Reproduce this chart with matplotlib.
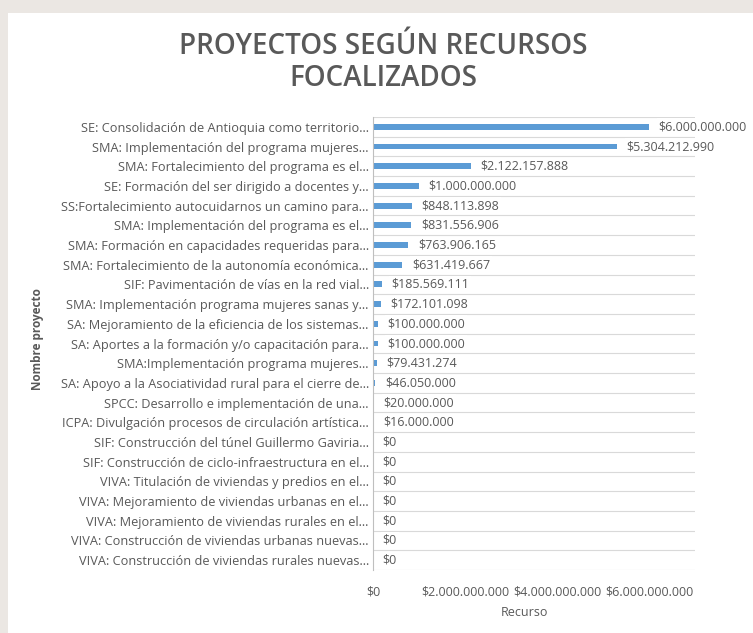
import matplotlib
matplotlib.use('Agg')
import matplotlib.pyplot as plt
import matplotlib.patches as mpatches
import numpy as np

plt.rcParams.update({'font.family': ['Open Sans', 'DejaVu Sans']})

proyectos = [
    'SE: Consolidación de Antioquia como territorio...',
    'SMA: Implementación del programa mujeres...',
    'SMA: Fortalecimiento del programa es el...',
    'SE: Formación del ser dirigido a docentes y...',
    'SS:Fortalecimiento autocuidarnos un camino para...',
    'SMA: Implementación del programa es el...',
    'SMA: Formación en capacidades requeridas para...',
    'SMA: Fortalecimiento de la autonomía económica...',
    'SIF: Pavimentación de vías en la red vial...',
    'SMA: Implementación programa mujeres sanas y...',
    'SA: Mejoramiento de la eficiencia de los sistemas...',
    'SA: Aportes a la formación y/o capacitación para...',
    'SMA:Implementación programa mujeres...',
    'SA: Apoyo a la Asociatividad rural para el cierre de...',
    'SPCC: Desarrollo e implementación de una...',
    'ICPA: Divulgación procesos de circulación artística...',
    'SIF: Construcción del túnel Guillermo Gaviria...',
    'SIF: Construcción de ciclo-infraestructura en el...',
    'VIVA: Titulación de viviendas y predios en el...',
    'VIVA: Mejoramiento de viviendas urbanas en el...',
    'VIVA: Mejoramiento de viviendas rurales en el...',
    'VIVA: Construcción de viviendas urbanas nuevas...',
    'VIVA: Construcción de viviendas rurales nuevas...',
]
recurso = [6000000000, 5304212990, 2122157888, 1000000000, 848113898,
           831556906, 763906165, 631419667, 185569111, 172101098,
           100000000, 100000000, 79431274, 46050000, 20000000, 16000000,
           0, 0, 0, 0, 0, 0, 0]
xticks = [0, 2000000000, 4000000000, 6000000000]

def pesos(v):
    return '$' + f'{v:,.0f}'.replace(',', '.')

gris = '#595959'
azul = '#5b9bd5'

fig = plt.figure(figsize=(7.53, 6.33), dpi=100, facecolor='#ebe7e3')
fig.patches.append(mpatches.Rectangle((8/753, 0), 1, 1 - 13/633, transform=fig.transFigure,
                                      facecolor='white', edgecolor='none', zorder=-5))
ax = fig.add_axes([373/753, 1 - 570/633, (695-373)/753, (570-117)/633])
ax.set_zorder(2)
ax.set_facecolor('none')

y = np.arange(len(proyectos))
ax.barh(y, recurso, height=0.3, color=azul, zorder=2)
ax.set_ylim(len(proyectos) - 0.5, -0.5)
ax.set_xlim(0, 7000000000)

for yi, v in zip(y, recurso):
    ax.annotate(pesos(v), (v, yi), xytext=(7, 0), textcoords='offset points',
                va='center', ha='left', fontsize=9, color=gris, zorder=3,
                bbox=dict(boxstyle='square,pad=0.15', fc='white', ec='none'))

ax.set_yticks(y)
ax.set_yticklabels(proyectos, fontsize=9.2, color=gris)
ax.set_yticks(np.arange(len(proyectos) + 1) - 0.5, minor=True)
ax.grid(True, which='minor', axis='y', color='#d9d9d9', lw=0.8, zorder=1)
ax.tick_params(axis='y', which='both', length=0, pad=3)

ax.set_xticks(xticks)
ax.set_xticklabels([pesos(t) for t in xticks], fontsize=9, color=gris)
ax.tick_params(axis='x', length=0, pad=11)

for s in ['top', 'right', 'bottom']:
    ax.spines[s].set_visible(False)
ax.spines['left'].set_color('#bfbfbf')

fig.text(524/753, 1 - 613/633, 'Recurso', ha='center', va='center',
         fontsize=9, color=gris)
fig.text(37/753, 1 - 339/633, 'Nombre proyecto', rotation=90, ha='center', va='center',
         fontsize=8.5, fontweight='bold', color=gris)

fig.text(383/753, 1 - 47/633, 'PROYECTOS SEGÚN RECURSOS', ha='center', va='center',
         fontsize=20, fontweight='semibold', color=gris)
fig.text(383/753, 1 - 78/633, 'FOCALIZADOS', ha='center', va='center',
         fontsize=20, fontweight='semibold', color=gris)

fig.savefig('out.png', dpi=100, facecolor=fig.get_facecolor())
